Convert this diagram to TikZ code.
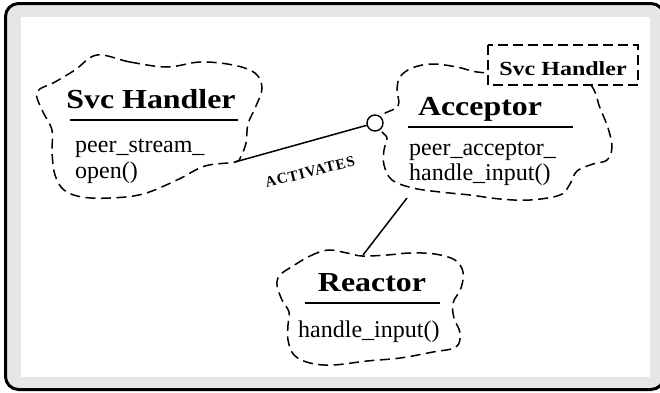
\documentclass[tikz,border=0pt]{standalone}
\usepackage{fontspec}
\setmainfont{Liberation Serif}
\definecolor{framegray}{RGB}{230,230,230}
\begin{document}
\begin{tikzpicture}[x=1pt,y=-1pt,
  cloudline/.style={draw, line width=1.5pt, dash pattern=on 10pt off 5.5pt, line cap=butt},
  titletext/.style={font=\fontsize{27.5}{30}\selectfont\bfseries, xscale=1.16, inner sep=0pt, anchor=base},
  bodytext/.style={font=\fontsize{24}{26}\selectfont, inner sep=0pt, anchor=base west},
  titlerule/.style={line width=1.8pt},
  link/.style={line width=1.5pt}]
\useasboundingbox (0,0) rectangle (660,392);
% frame
\begin{scope}
\clip (0,0) rectangle (660,392);
\draw[line width=3pt, fill=framegray, rounded corners=13pt] (5.5,3.5) rectangle (664,389.5);
\fill[white] (20.5,17) rectangle (650,377);
\end{scope}
% clouds
\draw[cloudline] plot[smooth cycle, tension=0.6] coordinates {
 (97,55) (130,62) (167,67) (200,62) (233,65) (255,73) (262,88) (256,106)
 (248,124) (246,143) (241,156) (235,162) (205,166) (177,180) (143,194)
 (110,198) (82,197) (64,190) (55,175) (52,152) (52,130) (42,110) (37,92)
 (55,82) (75,70)};
\draw[cloudline] plot[smooth cycle, tension=0.6] coordinates {
 (381,116) (398,106) (397,90) (400,77) (412,68) (432,64) (457,67) (477,72)
 (500,72) (560,65) (590,84) (600,108) (608,128) (612,147) (607,160)
 (593,164) (577,171) (570,184) (560,195) (530,200) (500,199) (470,195)
 (440,192) (413,188) (392,180) (384,165) (384,150) (387,138) (381,130)};
\draw[cloudline] plot[smooth cycle, tension=0.6] coordinates {
 (293,266) (310,256) (328,250) (347,253) (362,256) (387,255) (410,253)
 (435,254) (455,260) (463,272) (461,288) (453,303) (454,318) (460,333)
 (456,347) (433,352) (400,358) (367,361) (333,365) (310,363) (294,355)
 (288,340) (288,325) (289,312) (282,300) (277,285) (280,275)};
% small dashed box
\draw[line width=1.6pt, dash pattern=on 10pt off 5pt, fill=white] (488,45) rectangle (638,85);
\node[font=\fontsize{20}{22}\selectfont\bfseries, xscale=1.2, inner sep=0pt, anchor=base] (tag) at (563,75) {Svc Handler};
% connection points
\coordinate (svctip) at (235,162);
\coordinate (accbot) at (407,198);
\coordinate (reactop) at (363,255);
\node[draw, circle, line width=1.4pt, fill=white, minimum size=16pt, inner sep=0pt] (port) at (375,123) {};
\draw[link] (svctip) -- (port);
\draw[link] (accbot) -- (reactop);
\node[font=\fontsize{15}{18}\selectfont\bfseries\addfontfeature{LetterSpace=6}, rotate=14, inner sep=0pt] (act) at (310,172) {ACTIVATES};
% Svc Handler
\node[titletext] (svct) at (151,108) {Svc Handler};
\coordinate (svcrl) at (70,120); \coordinate (svcrr) at (238,120);
\draw[titlerule] (svcrl) -- (svcrr);
\node[bodytext] (svcb1) at (75,152) {peer\_stream\_};
\node[bodytext] (svcb2) at (75,178) {open()};
% Acceptor
\node[titletext] (acct) at (480,115) {Acceptor};
\coordinate (accrl) at (408,127); \coordinate (accrr) at (573,127);
\draw[titlerule] (accrl) -- (accrr);
\node[bodytext] (accb1) at (409,155) {peer\_acceptor\_};
\node[bodytext] (accb2) at (409,180) {handle\_input()};
% Reactor
\node[titletext] (reat) at (372,291) {Reactor};
\coordinate (rearl) at (305,303); \coordinate (rearr) at (440,303);
\draw[titlerule] (rearl) -- (rearr);
\node[bodytext] (reab1) at (298,337) {handle\_input()};
\end{tikzpicture}
\end{document}
